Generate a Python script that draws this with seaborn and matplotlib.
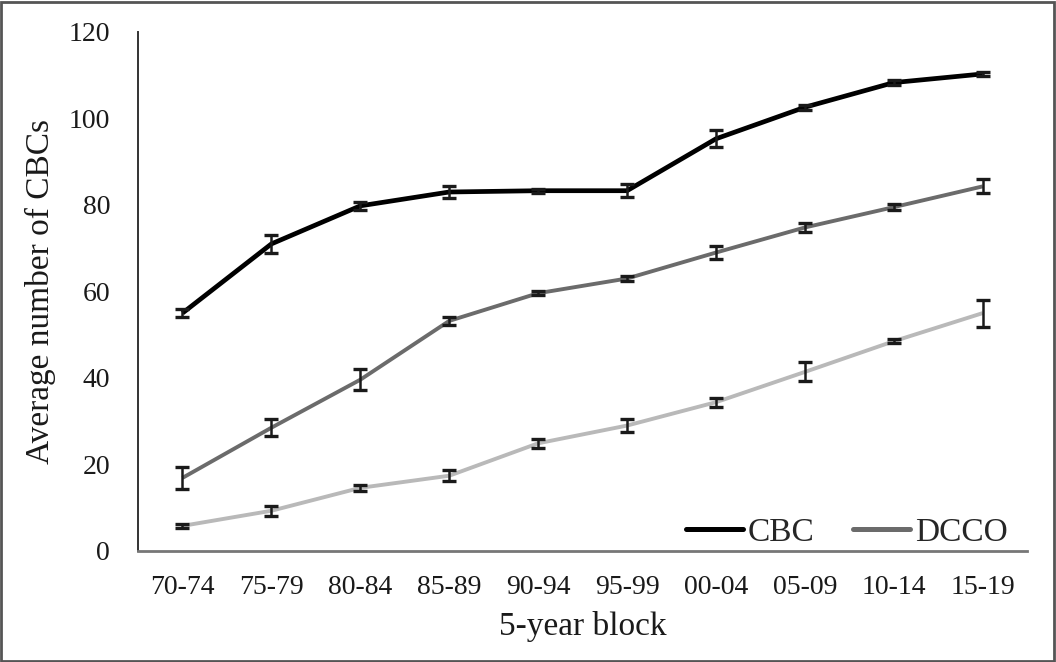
import matplotlib
matplotlib.use("Agg")
import matplotlib.pyplot as plt
import seaborn as sns
import pandas as pd
import numpy as np
from matplotlib.patches import Rectangle
from matplotlib.lines import Line2D

blocks = ["70-74", "75-79", "80-84", "85-89", "90-94", "95-99", "00-04", "05-09", "10-14", "15-19"]
cbc = [55.0, 71.0, 79.8, 83.0, 83.3, 83.3, 95.3, 102.6, 108.3, 110.3]
cbc_err = [1.0, 2.0, 1.0, 1.5, 0.5, 1.5, 2.0, 0.6, 0.5, 0.5]
dcco = [16.9, 28.5, 39.6, 53.2, 59.6, 63.0, 69.0, 74.8, 79.5, 84.3]
dcco_err = [2.6, 2.0, 2.4, 1.0, 0.5, 0.5, 1.5, 1.0, 0.7, 1.6]
third = [5.8, 9.3, 14.6, 17.4, 24.9, 29.0, 34.4, 41.4, 48.5, 55.0]
third_err = [0.5, 1.1, 0.7, 1.3, 1.1, 1.5, 1.0, 2.2, 0.5, 3.1]

series_names = ["CBC", "DCCO", "Other"]
colors = {"CBC": "#000000", "DCCO": "#6b6b6b", "Other": "#b9b9b9"}
widths = {"CBC": 3.4, "DCCO": 2.8, "Other": 2.8}

df = pd.DataFrame({
    "block": blocks * 3,
    "x": list(range(len(blocks))) * 3,
    "value": cbc + dcco + third,
    "err": cbc_err + dcco_err + third_err,
    "series": ["CBC"] * 10 + ["DCCO"] * 10 + ["Other"] * 10,
})

sns.set_style("white")
plt.rcParams["font.family"] = ["Liberation Serif", "DejaVu Serif"]

fig = plt.figure(figsize=(10.56, 6.62), dpi=100)
ax = fig.add_axes([0.1307, 0.1677, 0.842, 0.784])

for name in series_names:
    sub = df[df["series"] == name]
    ax.errorbar(sub["x"], sub["value"], yerr=sub["err"], fmt="none",
                ecolor="#1a1a1a", elinewidth=1.8, capsize=5, capthick=2.4, zorder=3)

sns.lineplot(data=df, x="x", y="value", hue="series", palette=colors,
             hue_order=series_names, ax=ax, legend=False, zorder=2,
             estimator=None, sort=False)
for line, name in zip(ax.get_lines()[-3:], series_names):
    line.set_linewidth(widths[name])
    line.set_solid_capstyle("butt")

ax.set_xlim(-0.5, len(blocks) - 0.5)
ax.set_ylim(0, 120)
ax.set_yticks(np.arange(0, 121, 20))
ax.set_xticks(range(len(blocks)))
ax.set_xticklabels(blocks)
ax.tick_params(axis="both", length=0, labelsize=20, colors="#1a1a1a")
ax.tick_params(axis="y", pad=20)
ax.tick_params(axis="x", pad=17)
ax.set_xlabel("5-year block", fontsize=24, color="#1a1a1a", labelpad=8)
ax.set_ylabel("Average number of CBCs", fontsize=24, color="#1a1a1a", labelpad=9)

for side in ["top", "right"]:
    ax.spines[side].set_visible(False)
ax.spines["left"].set_color("#333333")
ax.spines["left"].set_linewidth(1.4)
ax.spines["bottom"].set_color("#777777")
ax.spines["bottom"].set_linewidth(2.0)

handles = [Line2D([], [], color=colors["CBC"], lw=3.6),
           Line2D([], [], color=colors["DCCO"], lw=3.6)]
ax.legend(handles, ["CBC", "DCCO"], loc="center right", bbox_to_anchor=(0.978, 0.036),
          ncol=2, frameon=False, fontsize=24, handlelength=1.7, handletextpad=0.15,
          columnspacing=1.15, borderaxespad=0.0, borderpad=0.0)

fig.patches.append(Rectangle((0.001, 0.002), 0.997, 0.995, transform=fig.transFigure,
                             fill=False, edgecolor="#555555", linewidth=2.0))

fig.savefig("out.png", dpi=100)
